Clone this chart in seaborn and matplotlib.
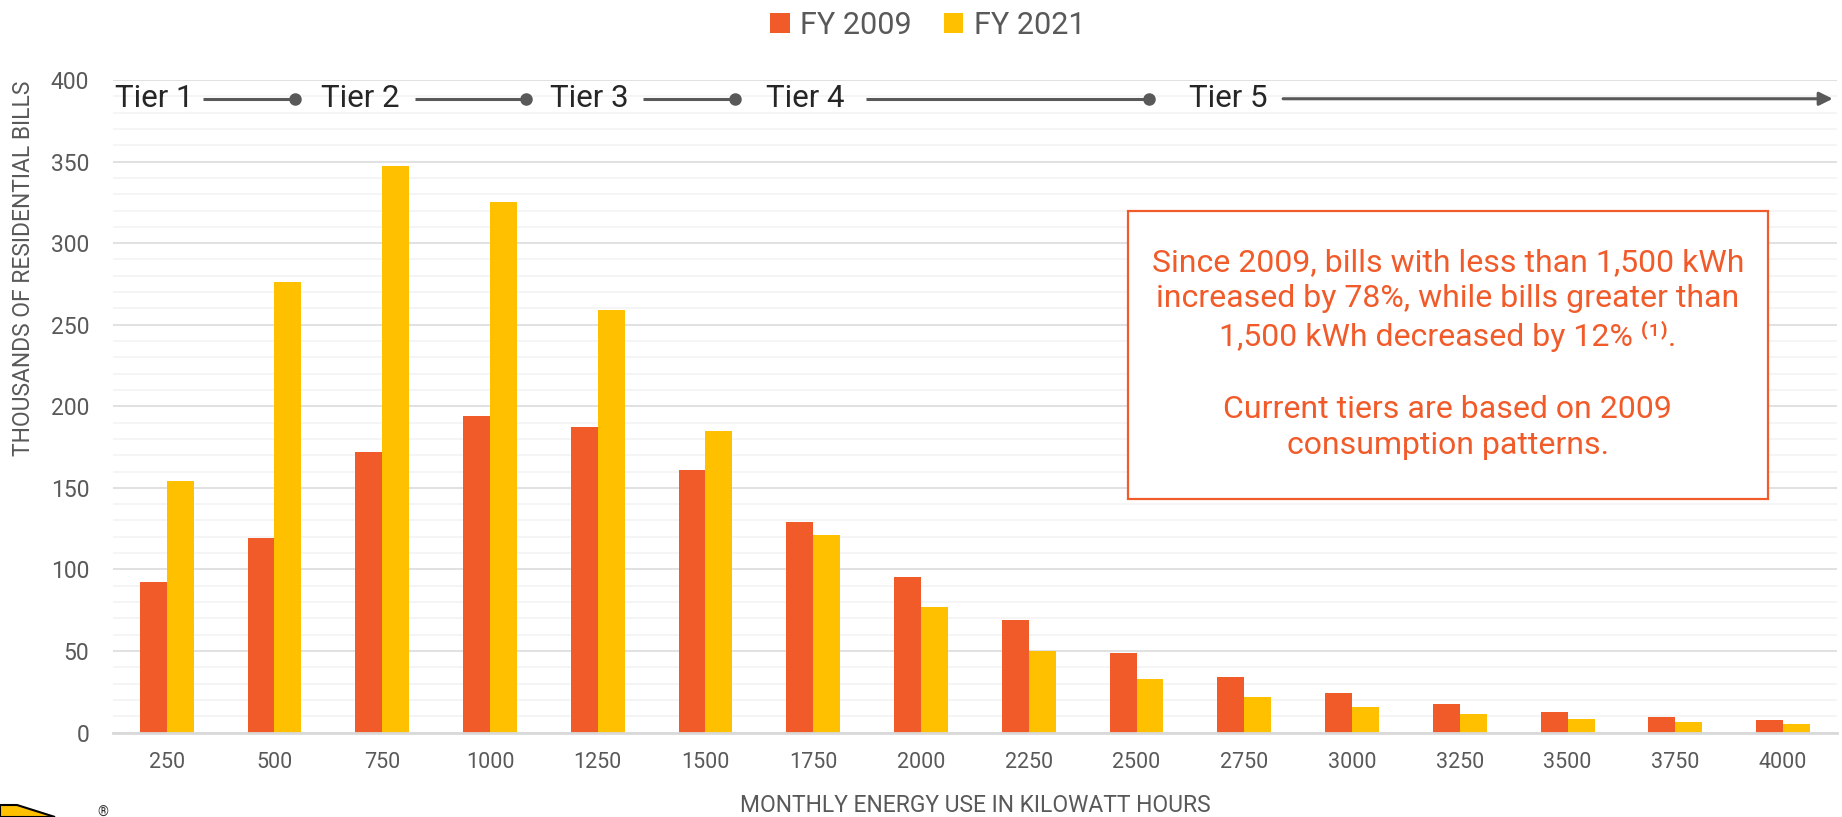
import matplotlib
matplotlib.use("Agg")
import matplotlib.pyplot as plt
from matplotlib.patches import Polygon, Rectangle
from matplotlib.ticker import MultipleLocator
import pandas as pd
import seaborn as sns

# ---- data -------------------------------------------------------------
usage_kwh = [250, 500, 750, 1000, 1250, 1500, 1750, 2000,
             2250, 2500, 2750, 3000, 3250, 3500, 3750, 4000]
bills_2009 = [92, 119, 172, 194, 187, 161, 129, 95.5,
              69, 48.5, 34, 24, 17.3, 12.6, 9.5, 7.7]
bills_2021 = [154, 276, 347, 325, 259, 185, 121, 77,
              50, 32.5, 22, 15.5, 11.3, 8.5, 6.4, 5]
series_names = ["FY 2009", "FY 2021"]
series_colors = ["#F15A29", "#FFC000"]

# rate tiers drawn across the top (positions in category units)
tier_names = ["Tier 1", "Tier 2", "Tier 3", "Tier 4", "Tier 5"]
tier_label_x = [-0.48, 1.43, 3.56, 5.56, 9.49]
tier_line_start = [0.34, 2.30, 4.42, 6.49, 10.36]
tier_line_end = [1.19, 3.33, 5.27, 9.12, 15.46]
tier_level = 388.5

note_lines = [
    "Since 2009, bills with less than 1,500 kWh",
    "increased by 78%, while bills greater than",
    "1,500 kWh decreased by 12% \u207d\u00b9\u207e.",
    "",
    "Current tiers are based on 2009",
    "consumption patterns.",
]

x_title = "MONTHLY ENERGY USE IN KILOWATT HOURS"
y_title = "THOUSANDS OF RESIDENTIAL BILLS"

# ---- styling ----------------------------------------------------------
sns.set_theme(style="white")
plt.rcParams["font.family"] = ["Roboto", "DejaVu Sans"]
GREY = "#595959"
ACCENT = "#F15A29"

W, H = 1842, 817
fig = plt.figure(figsize=(W / 100, H / 100), dpi=100)
fig.subplots_adjust(left=112.8 / W, right=1837 / W,
                    bottom=1 - 732.5 / H, top=1 - 80 / H)
ax = fig.add_subplot(111)

labels = [str(u) for u in usage_kwh]
df = pd.DataFrame({
    "usage": labels * 2,
    "bills": bills_2009 + bills_2021,
    "year": [series_names[0]] * len(labels) + [series_names[1]] * len(labels),
})

sns.barplot(data=df, x="usage", y="bills", hue="year",
            order=labels, hue_order=series_names,
            palette=dict(zip(series_names, series_colors)),
            width=0.5, saturation=1, linewidth=0, ax=ax)

ax.set_xlim(-0.5, len(labels) - 0.5)
ax.set_ylim(0, 400)
ax.yaxis.set_major_locator(MultipleLocator(50))
ax.yaxis.set_minor_locator(MultipleLocator(10))
ax.grid(which="minor", axis="y", color="#F2F2F2", lw=1.1)
ax.grid(which="major", axis="y", color="#D9D9D9", lw=1.1)
ax.grid(axis="x", visible=False)
ax.set_axisbelow(True)

for side in ["top", "left", "right"]:
    ax.spines[side].set_visible(False)
ax.spines["bottom"].set_color("#D9D9D9")
ax.spines["bottom"].set_linewidth(2)

ax.tick_params(axis="y", which="both", length=0, pad=17,
               labelsize=16.5, labelcolor=GREY)
ax.tick_params(axis="x", which="both", length=0, pad=14,
               labelsize=15.5, labelcolor=GREY)

ax.set_xlabel(x_title, fontsize=16.5, color=GREY)
ax.xaxis.set_label_coords(0.5, -0.094)
ax.set_ylabel("")
ax.text(-0.0518, 0.712, y_title, transform=ax.transAxes, rotation=90,
        ha="center", va="center", fontsize=16.5, color=GREY)

# legend centred above the plot
ax.legend(title=None, loc="center", bbox_to_anchor=(927.5 / W, 1 - 25 / H),
          bbox_transform=fig.transFigure, ncol=2, frameon=False,
          fontsize=22, handlelength=0.65, handleheight=0.65,
          handletextpad=0.33, columnspacing=1.05, labelcolor=GREY,
          borderaxespad=0, borderpad=0)

# tier markers
for i, name in enumerate(tier_names):
    ax.text(tier_label_x[i], tier_level, name, ha="left", va="center",
            fontsize=22.5, color="#262626")
    if i < len(tier_names) - 1:
        ax.plot([tier_line_start[i], tier_line_end[i]], [tier_level] * 2,
                color=GREY, lw=2.2, solid_capstyle="butt")
        ax.plot(tier_line_end[i], tier_level, "o", color=GREY, ms=8)
    else:
        ax.annotate("", xy=(tier_line_end[i], tier_level),
                    xytext=(tier_line_start[i], tier_level),
                    arrowprops=dict(arrowstyle="-|>", color=GREY, lw=2.2,
                                    mutation_scale=20, shrinkA=0, shrinkB=0),
                    annotation_clip=False)

# call-out box
box_l, box_r, box_t, box_b = 1127.7, 1768, 211.4, 499.2
fig.add_artist(Rectangle((box_l / W, 1 - box_b / H),
                         (box_r - box_l) / W, (box_b - box_t) / H,
                         transform=fig.transFigure, facecolor="white",
                         edgecolor=ACCENT, lw=1.6, zorder=2))
fig.text((box_l + box_r) / 2 / W, 1 - 354 / H, "\n".join(note_lines),
         ha="center", va="center", multialignment="center",
         fontsize=23, color=ACCENT, linespacing=1.3, zorder=3)

# corner logo
fig.add_artist(Polygon([[0, 1 - 805 / H], [17 / W, 1 - 805 / H],
                        [55 / W, 0], [0, 0]], closed=True,
                       transform=fig.transFigure, facecolor="#FFC000",
                       edgecolor="black", lw=1.5))
fig.text(103 / W, 1 - 813 / H, "\u00ae", fontsize=10, color="#333333",
         ha="center", va="center")

fig.savefig("out.png", dpi=100)
